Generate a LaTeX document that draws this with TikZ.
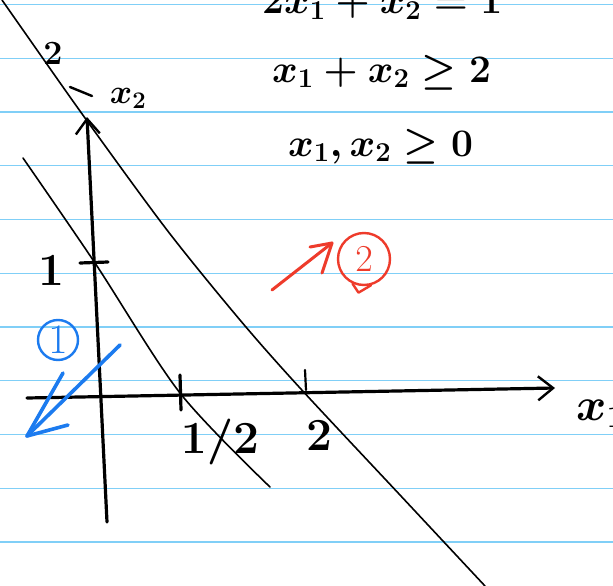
\RequirePackage{fix-cm}
\documentclass[tikz,border=0pt]{standalone}
\usepackage{amsmath,amssymb}
\usetikzlibrary{arrows.meta, positioning}
\definecolor{ruleblue}{HTML}{80CFF7}
\definecolor{penblue}{HTML}{1C7BEF}
\definecolor{penred}{HTML}{EE3B2B}

\begin{document}
\begin{tikzpicture}[x=1pt, y=-1pt,
    every node/.style={font=\fontsize{39}{44}\selectfont\boldmath, inner sep=0pt},
    big/.style={font=\fontsize{46}{50}\selectfont\boldmath},
    small/.style={font=\fontsize{34}{38}\selectfont\boldmath},
    paper/.style={ruleblue, line width=1.3pt},
    pen/.style={black, line width=1.6pt, line cap=round, line join=round},
    axis/.style={black, line width=3.2pt, line cap=round, line join=round},
    barb/.style={-{Straight Barb[length=15pt, width=24pt, line width=2.4pt]}},
    blue pen/.style={penblue, line width=3.6pt, line cap=round, line join=round},
    red pen/.style={penred, line width=3pt, line cap=round, line join=round}
]
\useasboundingbox (0,0) rectangle (613,586);
\clip (0,0) rectangle (613,586);
\fill[white] (0,0) rectangle (613,586);

% ruled paper
\foreach \k in {0,...,10}
  \draw[paper] (0,{4.5+53.75*\k}) -- (613,{4.5+53.75*\k});

% axes
\coordinate (ybot) at (107,522);
\coordinate (ytop) at (87,117);
\coordinate (xleft) at (27,398);
\coordinate (xright) at (555,388);
\draw[axis, barb] (ybot) -- (ytop);
\draw[axis, barb] (xleft) -- (xright);

% ticks
\draw[axis] (80,263) -- (108,262);
\draw[axis] (180,375) -- (181,410);
\draw[pen, line width=2.2pt] (305,370) -- (306,390);
\draw[pen, line width=2.4pt] (70,87) -- (92,96);

% constraint lines
\draw[pen] plot[smooth, tension=0.5] coordinates
  {(2,0) (23,30) (85,118) (167,230) (240,320) (300,388) (400,495) (485,586)};
\draw[pen] plot[smooth, tension=0.5] coordinates
  {(23,158) (95,263) (180,393) (270,487)};

% labels
\node[anchor=base west] (eqone) at (262,14) {$2x_1+x_2=1$};
\node[anchor=base west] (eqtwo) at (272,82) {$x_1+x_2\geq 2$};
\node[anchor=base west] (eqthree) at (288,156) {$x_1,x_2\geq 0$};
\node[small] (ylab) at (128,98) {$x_2$};
\node[small] (ytwo) at (53,54) {$2$};
\node[big] (yone) at (51,271) {$1$};
\node[big] (xhalf) at (220,442) {$1/2$};
\node[big] (xtwo) at (319,436) {$2$};
\node[big, anchor=west] (xlab) at (576,414) {$x_1$};

% region 1
\node[penblue, draw=penblue, circle, line width=2.4pt, minimum size=40pt,
      font=\fontsize{42}{46}\selectfont] (one) at (58,340) {$1$};
\coordinate (btail) at (120,345);
\coordinate (btip) at (27,436);
\draw[blue pen] (btail) -- (btip);
\draw[blue pen] (btip) -- (68,425);
\draw[blue pen] (btip) -- (63,373);

% region 2
\node[penred, draw=penred, circle, line width=2.4pt, minimum size=52pt,
      font=\fontsize{38}{42}\selectfont] (two) at (364,259) {$2$};
\draw[red pen, line width=2.4pt] (two.-115) -- ++(6,9) -- (two.-75);
\coordinate (rtail) at (272,290);
\coordinate (rtip) at (332,243);
\draw[red pen] (rtail) -- (rtip);
\draw[red pen] (rtip) -- (310,247);
\draw[red pen] (rtip) -- (322,273);
\end{tikzpicture}
\end{document}
